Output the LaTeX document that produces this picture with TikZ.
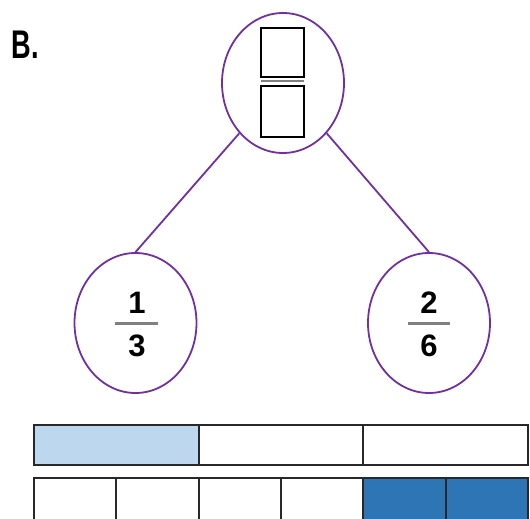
\documentclass[tikz,border=0pt]{standalone}
\usepackage{fontspec}
\setmainfont{Liberation Sans}
\usetikzlibrary{shapes.geometric}
\definecolor{ringpurple}{RGB}{112,48,160}
\definecolor{lightblue}{RGB}{189,215,238}
\definecolor{darkblue}{RGB}{46,117,182}
\definecolor{barline}{RGB}{40,40,40}
\definecolor{fracgray}{RGB}{128,128,128}
\tikzset{
  ring/.style={draw=ringpurple, line width=1.8pt, ellipse, minimum width=122pt, minimum height=140pt, inner sep=0pt},
  link/.style={draw=ringpurple, line width=1.8pt},
  digit/.style={font=\fontsize{31}{31}\selectfont\bfseries, inner sep=0pt, text=black},
  fbar/.style={draw=fracgray, line width=3pt},
  cell/.style={draw=barline, line width=2pt},
  blank/.style={draw=black, line width=1.6pt},
}
\begin{document}
\begin{tikzpicture}[x=1pt,y=-1pt]
\useasboundingbox (0,0) rectangle (530,519);
\clip (0,0) rectangle (530,519);
% label
\node[anchor=center, inner sep=0pt] (lab) at (25,45) {\scalebox{0.68}[1]{\fontsize{40}{40}\selectfont\bfseries B.}};
% ellipses
\node[ring] (top) at (283,83) {};
\node[ring] (left) at (135.5,323) {};
\node[ring] (right) at (429,323) {};
\draw[link] (top.229) -- (left.north);
\draw[link] (top.311) -- (right.north);
% blank fraction in top
\draw[blank] (261,28) rectangle (304,77);
\draw[blank] (261,86) rectangle (304,137);
\draw[draw=fracgray, line width=1.5pt] (261,81) -- (304,81);
% fractions
\node[digit] (n1) at (137,303) {1};
\node[digit] (d1) at (137,346) {3};
\draw[fbar] (115,323) -- (158,323);
\node[digit] (n2) at (429,303) {2};
\node[digit] (d2) at (429,346) {6};
\draw[fbar] (408,323) -- (450,323);
% top bar (thirds)
\fill[lightblue] (34,425) rectangle (199,465);
\draw[cell] (34,425) rectangle (199,465);
\draw[cell] (199,425) rectangle (363,465);
\draw[cell] (363,425) rectangle (528,465);
% bottom bar (sixths)
\fill[darkblue] (363,478) rectangle (528,530);
\foreach \a/\b in {34/116,116/199,199/281,281/363,363/446,446/528}{
  \draw[cell] (\a,478) rectangle (\b,530);
}
\end{tikzpicture}
\end{document}
